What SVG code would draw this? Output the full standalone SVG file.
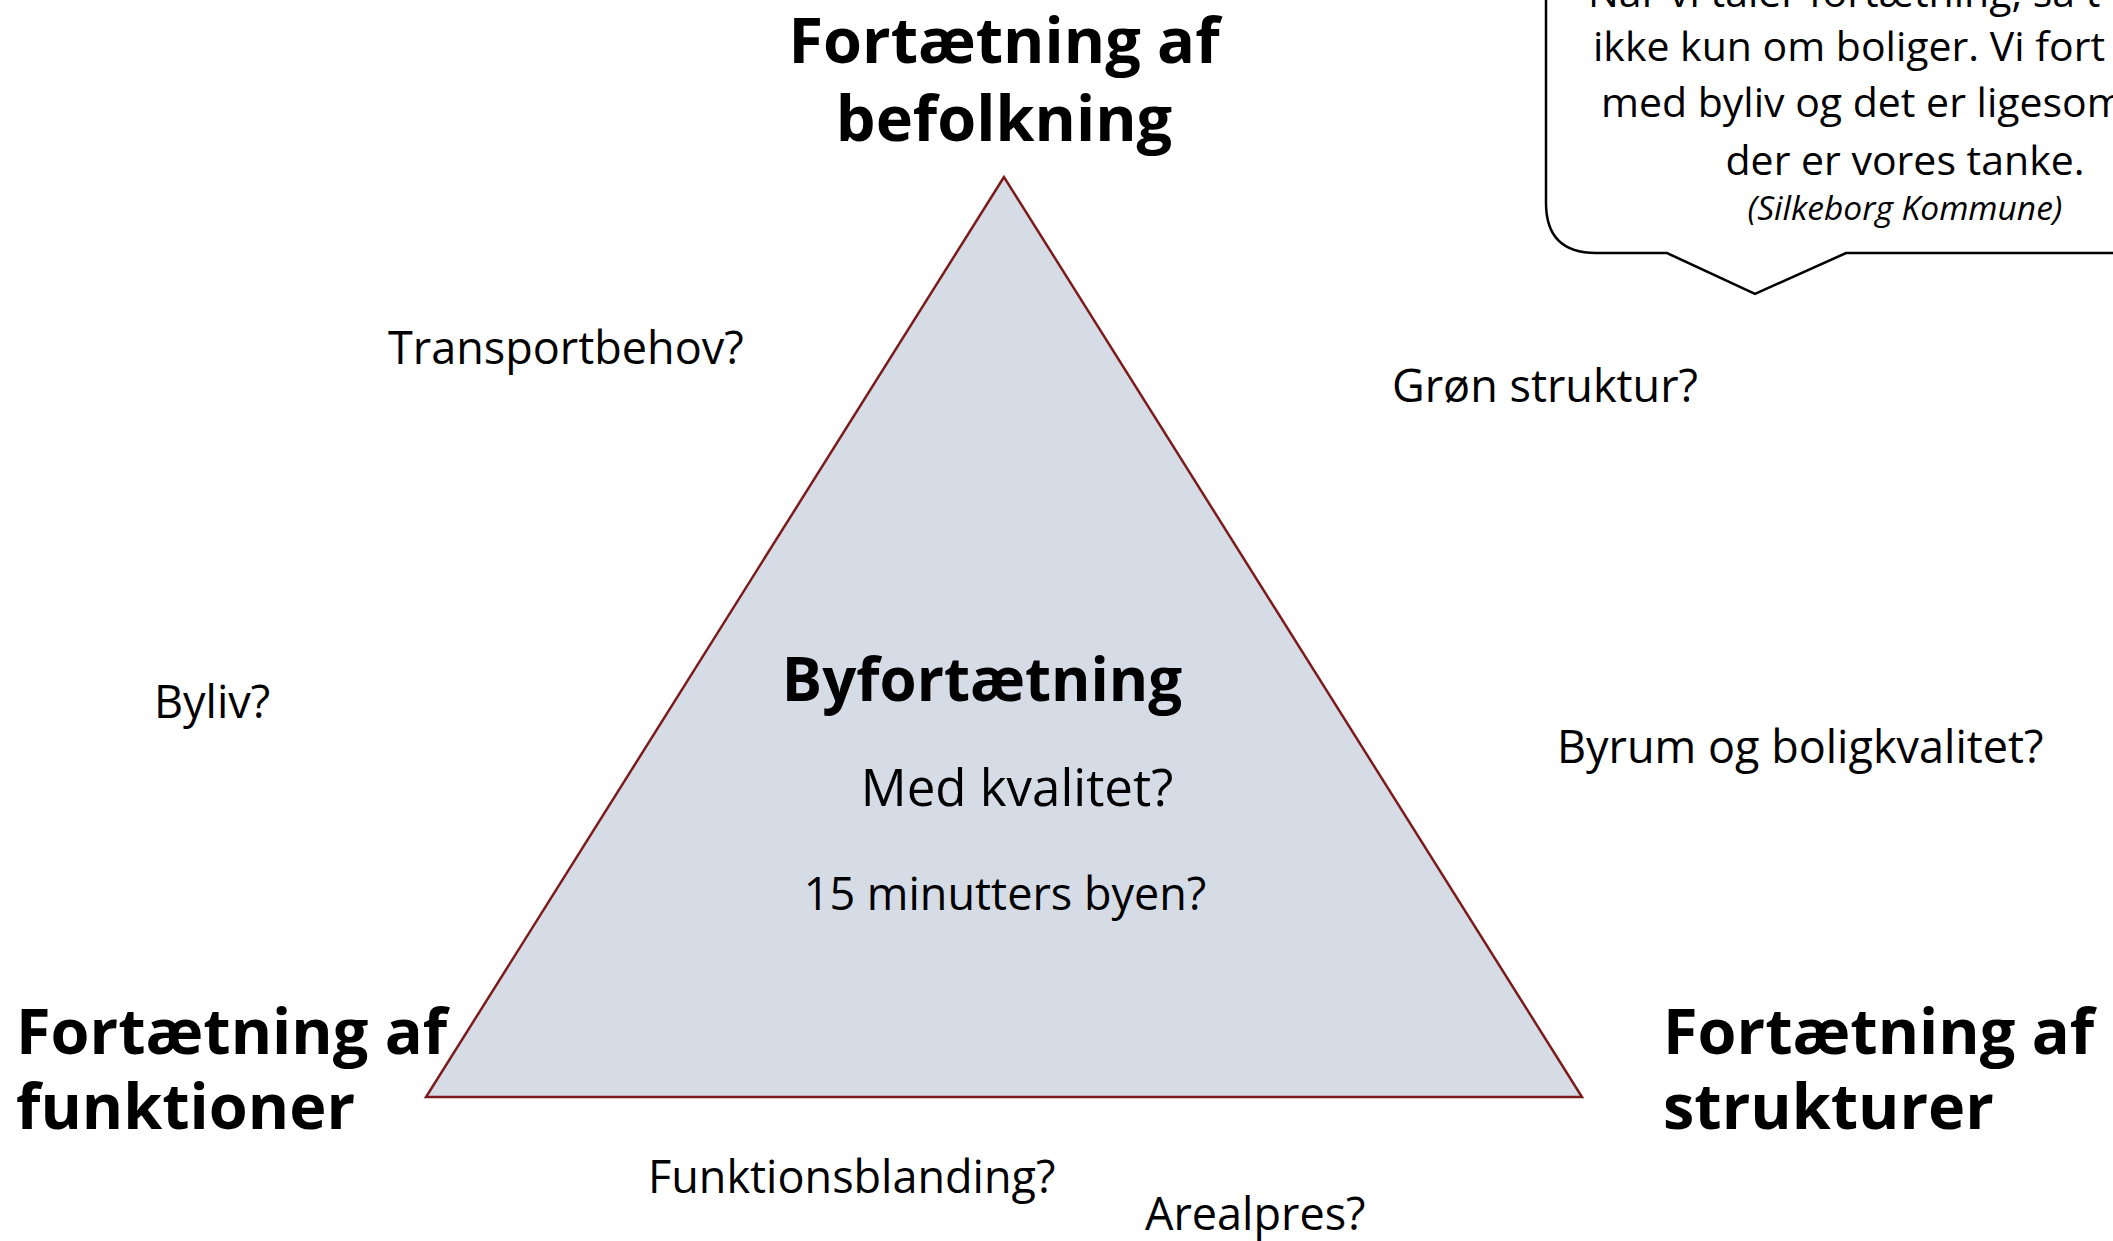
<svg xmlns="http://www.w3.org/2000/svg" width="2113" height="1241" viewBox="0 0 2113 1241">
<style>
.t{font-family:"Open Sans","Noto Sans","DejaVu Sans",sans-serif;fill:#000}
.b{font-weight:700}
.h{font-size:63px}
.q{font-size:45px}
.c{font-size:41px}
</style>
<rect width="2113" height="1241" fill="#fff"/>
<g id="callout">
<path d="M1546,-20 V203 Q1546,253 1596,253 H1667 L1755,294 L1846,253 H2160 V-20 Z" fill="#fff" stroke="#000" stroke-width="2.5"/>
<text class="t c" x="1588" y="7">Når vi taler fortætning, så t</text>
<text class="t c" x="1593" y="61">ikke kun om boliger. Vi fort</text>
<text class="t c" x="1601" y="117">med byliv og det er ligesom</text>
<text class="t c" x="1905" y="175" text-anchor="middle">der er vores tanke.</text>
<text class="t" x="1905" y="220" text-anchor="middle" font-size="33.5" font-style="italic">(Silkeborg Kommune)</text>
</g>
<g id="triangle">
<polygon points="1004,177 426,1097 1582,1097" fill="#D6DCE5" stroke="#7B1B1B" stroke-width="2.5"/>
<text class="t b" x="982" y="701" text-anchor="middle" font-size="60">Byfortætning</text>
<text class="t" x="1017" y="806" text-anchor="middle" font-size="51">Med kvalitet?</text>
<text class="t" x="1005" y="910" text-anchor="middle" font-size="45">15 minutters byen?</text>
</g>
<g id="top"><text class="t b h" x="1004" y="63" text-anchor="middle">Fortætning af</text><text class="t b h" x="1004" y="141" text-anchor="middle">befolkning</text></g>
<g id="left"><text class="t b h" x="16" y="1054">Fortætning af</text><text class="t b h" x="16" y="1129">funktioner</text></g>
<g id="right"><text class="t b h" x="1663" y="1054">Fortætning af</text><text class="t b h" x="1663" y="1129">strukturer</text></g>
<g id="labels">
<text class="t q" x="388" y="364">Transportbehov?</text>
<text class="t q" x="1392" y="402">Grøn struktur?</text>
<text class="t q" x="154" y="718">Byliv?</text>
<text class="t q" x="1557" y="763">Byrum og boligkvalitet?</text>
<text class="t q" x="648" y="1193">Funktionsblanding?</text>
<text class="t q" x="1145" y="1230">Arealpres?</text>
</g>
<g id="connectors"/>
</svg>
